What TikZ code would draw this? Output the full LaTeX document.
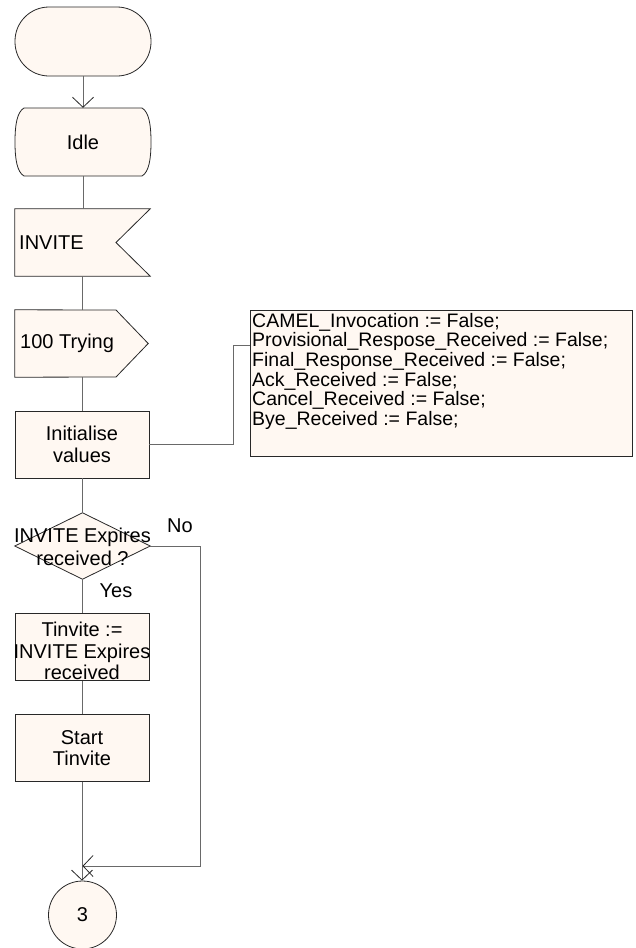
\documentclass[tikz,border=0pt]{standalone}
\usepackage{fontspec}
\setmainfont{Liberation Sans}
\usetikzlibrary{arrows.meta}
\definecolor{sdlfill}{RGB}{255,248,242}
\definecolor{connc}{RGB}{105,105,105}
\definecolor{edgec}{RGB}{40,40,40}
\begin{document}
\begin{tikzpicture}[x=1pt,y=-1pt,
  sdl/.style={draw=edgec, fill=sdlfill, line width=0.8pt},
  ghost/.style={rectangle, inner sep=0pt, minimum width=#1, minimum height=67pt},
  box/.style={sdl, rectangle, inner sep=0pt, minimum width=134pt, minimum height=67pt, align=center, font=\fontsize{20}{21.5}\selectfont},
  lbl/.style={font=\fontsize{20}{22}\selectfont, inner sep=0pt},
  conn/.style={draw=connc, line width=0.9pt},
  arr/.style={conn, -{Straight Barb[length=10pt,width=21pt,line width=0.8pt,color=edgec]}}]

\useasboundingbox (0,0) rectangle (636,948);
\fill[white] (0,0) rectangle (636,948);

% start symbol
\node[sdl, rectangle, rounded corners=34pt, minimum width=136pt, minimum height=69pt, inner sep=0pt] (start) at (83,41.5) {};

% Idle state
\node[ghost=136pt, minimum height=68pt] (idle) at (83,142) {};
\draw[sdl] (24,108) -- (142,108) .. controls (149,112) and (151,125) .. (151,142)
  .. controls (151,159) and (149,172) .. (142,176) -- (24,176)
  .. controls (17,172) and (15,159) .. (15,142)
  .. controls (15,125) and (17,112) .. (24,108) -- cycle;
\node[lbl] (idletext) at (idle) {Idle};

% INVITE input
\node[ghost=135pt] (invite) at (82.5,242.5) {};
\draw[sdl] (invite.north west) -- (invite.north east) -- (116,242.5) -- (invite.south east) -- (invite.south west) -- cycle;
\node[lbl, anchor=west] (invitetext) at (19,242.5) {INVITE};

% 100 Trying output
\node[ghost=133pt] (trying) at (81.5,343.5) {};
\draw[sdl] (trying.north west) -- (116,310) -- (trying.east) -- (116,377) -- (trying.south west) -- cycle;
\node[lbl, anchor=west] (tryingtext) at (20,343.5) {100 Trying};

% Initialise values
\node[box] (init) at (82,444.5) {Initialise\\values};

% note box
\node[sdl, rectangle, anchor=north west, minimum width=382pt, minimum height=146pt, inner sep=0pt] (note) at (250,310) {};
\node[anchor=north west, align=left, inner sep=0pt, font=\fontsize{19.5}{19.6}\selectfont] (notetext) at (252,313)
 {CAMEL\_Invocation := False;\\
  Provisional\_Respose\_Received := False;\\
  Final\_Response\_Received := False;\\
  Ack\_Received := False;\\
  Cancel\_Received := False;\\
  Bye\_Received := False;};

% decision
\node[ghost=135pt, minimum height=66pt] (dec) at (82.5,546) {};
\draw[sdl] (dec.north) -- (dec.east) -- (dec.south) -- (dec.west) -- cycle;
\node[lbl, align=center, font=\fontsize{20}{23}\selectfont] (dectext) at (82.5,547) {INVITE Expires\\received ?};
\node[lbl] (nolbl) at (180,526) {No};
\node[lbl] (yeslbl) at (116,591) {Yes};

% Tinvite assignment
\node[box] (tset) at (82,647) {};
\node[lbl, align=center, font=\fontsize{20}{21.5}\selectfont] (tsettext) at (82,651) {Tinvite :=\\INVITE Expires\\received};

% Start Tinvite
\node[box] (tstart) at (82,748) {Start\\Tinvite};

% connector 3
\node[sdl, circle, minimum size=68pt, inner sep=0pt, lbl] (c3) at (82.5,915) {3};

% connectors
\draw[arr] (start.south) -- (start.south |- idle.north);
\draw[conn] (idle.south) -- (idle.south |- invite.north);
\draw[conn] (invite.south) -- (invite.south |- trying.north);
\draw[conn] (invite.south |- trying.south) -- (invite.south |- init.north);
\draw[conn] (init.south) -- (init.south |- dec.north);
\coordinate (nj) at (233,345);
\draw[conn] (init.east) -| (nj) -- (nj -| note.west);
\draw[conn] (dec.south) -- (dec.south |- tset.north);
\draw[conn] (tset.south) -- (tset.south |- tstart.north);
\draw[arr] (tstart.south) -- (tstart.south |- c3.north);
\coordinate (nb) at (200,866);
\draw[arr] (dec.east) -| (nb) -- (nb -| c3.north);
\end{tikzpicture}
\end{document}
